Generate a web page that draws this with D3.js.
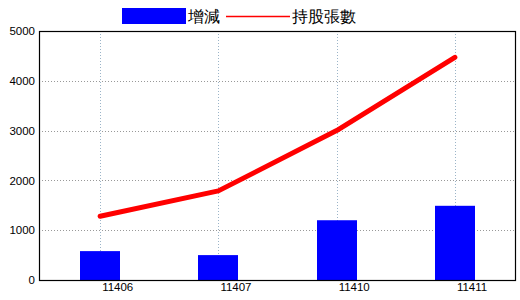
<!DOCTYPE html>
<html>
<head>
<meta charset="utf-8">
<script src="https://cdn.jsdelivr.net/npm/d3@7"></script>
<style>
  body { margin: 0; background: #fff; }
  svg { display: block; }
  text { font-family: "Liberation Sans", Arial, sans-serif; }
</style>
</head>
<body>
<div id="chart"></div>
<script>
var months = ["11406", "11407", "11410", "11411"];
var changeValues = [580, 500, 1200, 1490];
var holdingValues = [1280, 1790, 3000, 4470];
var yTicks = [0, 1000, 2000, 3000, 4000, 5000];
var legendNames = ["增減", "持股張數"];

var width = 520, height = 300;
var margin = {top: 31, right: 4, bottom: 20, left: 39};

function init() {
  var svg = d3.select('#chart')
              .append('svg')
              .attr('width', width)
              .attr('height', height);

  var xScale = d3.scaleBand()
                  .domain(months)
                  .range([41, 514]);
  var yScale = d3.scaleLinear()
                  .domain([0, 5000])
                  .range([height - margin.bottom, margin.top]);

  var left = margin.left, right = width - margin.right;
  var top = margin.top, bottom = height - margin.bottom;

  // grid lines
  svg.append('g')
    .selectAll('line')
    .data(yTicks.slice(1, -1))
    .join('line')
    .attr('x1', left).attr('x2', right)
    .attr('y1', d => Math.round(yScale(d)) + 0.5)
    .attr('y2', d => Math.round(yScale(d)) + 0.5)
    .attr('stroke', '#999')
    .attr('stroke-dasharray', '1,2');

  svg.append('g')
    .selectAll('line')
    .data(months)
    .join('line')
    .attr('x1', d => Math.round(xScale(d) + xScale.bandwidth() / 2) + 0.5)
    .attr('x2', d => Math.round(xScale(d) + xScale.bandwidth() / 2) + 0.5)
    .attr('y1', top).attr('y2', bottom)
    .attr('stroke', '#9bb4c8')
    .attr('stroke-dasharray', '1,2');

  // bars
  var barW = 40;
  svg.append('g')
    .attr('fill', '#0000ff')
    .selectAll('rect')
    .data(changeValues)
    .join('rect')
    .attr('x', (d, i) => Math.round(xScale(months[i]) + xScale.bandwidth() / 2 - barW / 2))
    .attr('y', d => yScale(d))
    .attr('width', barW)
    .attr('height', d => yScale(0) - yScale(d));

  // line
  var line = d3.line()
               .x((d, i) => xScale(months[i]) + xScale.bandwidth() / 2)
               .y(d => yScale(d));
  svg.append('path')
    .datum(holdingValues)
    .attr('d', line)
    .attr('fill', 'none')
    .attr('stroke', '#ff0000')
    .attr('stroke-width', 5)
    .attr('stroke-linecap', 'round')
    .attr('stroke-linejoin', 'round');

  // frame
  svg.append('rect')
    .attr('x', left + 0.5).attr('y', top + 0.5)
    .attr('width', right - left - 1).attr('height', bottom - top)
    .attr('fill', 'none')
    .attr('stroke', '#000')
    .attr('stroke-width', 1.2);

  // axes
  var yAxis = svg.append('g')
    .attr('transform', `translate(${left},0)`)
    .call(d3.axisLeft(yScale).tickValues(yTicks).tickFormat(d3.format('d')).tickSize(0).tickPadding(4));
  yAxis.select('.domain').remove();
  yAxis.selectAll('text')
    .attr('font-size', 11.5)
    .attr('font-family', '"Liberation Sans", Arial, sans-serif')
    .attr('fill', '#000');

  // x labels start just right of the tick position
  var xAxis = svg.append('g')
    .attr('transform', `translate(0,${bottom})`)
    .call(d3.axisBottom(xScale).tickSize(0).tickPadding(3));
  xAxis.select('.domain').remove();
  xAxis.selectAll('text')
    .attr('text-anchor', 'start')
    .attr('x', 2)
    .attr('font-size', 11.5)
    .attr('font-family', '"Liberation Sans", Arial, sans-serif')
    .attr('fill', '#000');

  // legend
  var legend = svg.append('g');
  legend.append('rect')
    .attr('x', 122).attr('y', 8)
    .attr('width', 64).attr('height', 16)
    .attr('fill', '#0000ff');
  legend.append('text')
    .attr('x', 188).attr('y', 22)
    .attr('font-size', 16)
    .attr('font-family', '"Noto Sans CJK TC", sans-serif')
    .text(legendNames[0]);
  legend.append('line')
    .attr('x1', 226).attr('x2', 290)
    .attr('y1', 16.5).attr('y2', 16.5)
    .attr('stroke', '#ff0000')
    .attr('stroke-width', 1.5);
  legend.append('text')
    .attr('x', 292).attr('y', 22)
    .attr('font-size', 16)
    .attr('font-family', '"Noto Sans CJK TC", sans-serif')
    .text(legendNames[1]);
}

window.onload = init;
</script>
</body>
</html>
